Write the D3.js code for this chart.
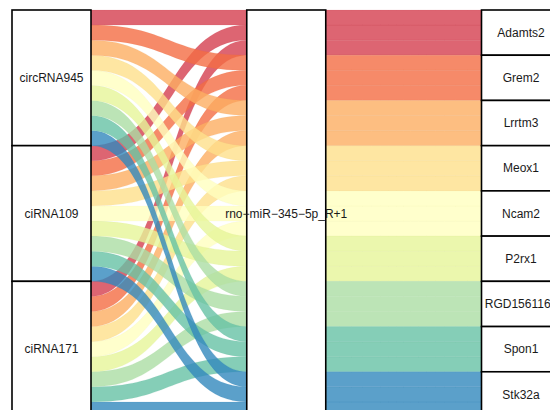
<!DOCTYPE html>
<html>
<head>
<meta charset="utf-8">
<script src="https://cdn.jsdelivr.net/npm/d3@7"></script>
<style>
  html, body { margin: 0; padding: 0; background: #fff; overflow: hidden; }
  svg { display: block; }
  text { font-family: "Liberation Sans", Arial, sans-serif; font-size: 12px; fill: #1a1a1a; }
</style>
</head>
<body>
<svg id="chart" width="550" height="410"></svg>
<script>
// ---- data ----
const axes = ["circRNA", "miRNA", "mRNA"];
const circRNAs = ["circRNA945", "ciRNA109", "ciRNA171"];
const miRNAs = ["rno\u2212miR\u2212345\u22125p_R+1"];
const genes = ["Adamts2", "Grem2", "Lrrtm3", "Meox1", "Ncam2", "P2rx1", "RGD1561161", "Spon1", "Stk32a"];
// weight of each circRNA -> gene alluvium (rows: circRNAs, cols: genes)
const weights = [
  [1, 1, 1, 1, 1, 1, 1, 1, 1],
  [1, 1, 1, 1, 1, 1, 1, 1, 1],
  [1, 1, 1, 1, 1, 1, 1, 1, 1]
];
const palette = ["#D53E4F", "#F46D43", "#FDAE61", "#FEE08B", "#FFFFBF", "#E6F598", "#ABDDA4", "#66C2A5", "#3288BD"];

// ---- build alluvia ----
const alluvia = [];
circRNAs.forEach((c, ci) => genes.forEach((g, gi) => {
  alluvia.push({ circ: c, ci, gene: g, gi, w: weights[ci][gi] });
}));
const total = d3.sum(alluvia, d => d.w);

// left order: by circ then gene; middle/right order: by gene then circ
let acc = 0;
alluvia.forEach(d => { d.l0 = acc; acc += d.w; d.l1 = acc; });
acc = 0;
alluvia.slice().sort((a, b) => a.gi - b.gi || a.ci - b.ci)
  .forEach(d => { d.m0 = acc; acc += d.w; d.m1 = acc; });

// draw bottom alluvia first so upper ones lie on top
const drawOrder = alluvia.slice().reverse();

const svg = d3.select("#chart");
const boxW = 79;
const x = d3.scalePoint().domain(axes).range([51.5, 521]);
const y = d3.scaleLinear().domain([0, total]).range([10, 417]);
const color = d3.scaleOrdinal().domain(genes).range(palette);

function band(xa, ya0, ya1, xb, yb0, yb1) {
  const xm = (xa + xb) / 2;
  const p = d3.path();
  p.moveTo(xa, ya0);
  p.bezierCurveTo(xm, ya0, xm, yb0, xb, yb0);
  p.lineTo(xb, yb1);
  p.bezierCurveTo(xm, yb1, xm, ya1, xa, ya1);
  p.closePath();
  return p.toString();
}

const xl = x("circRNA") + boxW / 2, xmL = x("miRNA") - boxW / 2;
const xmR = x("miRNA") + boxW / 2, xr = x("mRNA") - boxW / 2;

const flows = svg.append("g");
// left -> middle
flows.selectAll("path.lf").data(drawOrder).join("path")
  .attr("class", "lf")
  .attr("d", d => band(xl, y(d.l0), y(d.l1), xmL, y(d.m0), y(d.m1)))
  .attr("fill", d => color(d.gene))
  .attr("fill-opacity", 0.8)
  .attr("stroke", d => d3.color(color(d.gene)).darker(0.3))
  .attr("stroke-opacity", 0.25)
  .attr("stroke-width", 0.4);
// middle -> right
flows.selectAll("path.rf").data(drawOrder).join("path")
  .attr("class", "rf")
  .attr("d", d => band(xmR, y(d.m0), y(d.m1), xr, y(d.m0), y(d.m1)))
  .attr("fill", d => color(d.gene))
  .attr("fill-opacity", 0.8)
  .attr("stroke", d => d3.color(color(d.gene)).darker(0.3))
  .attr("stroke-opacity", 0.25)
  .attr("stroke-width", 0.4);

// strata
const strata = [];
circRNAs.forEach((c, ci) => {
  const a = alluvia.filter(d => d.ci === ci);
  strata.push({ axis: "circRNA", label: c, y0: d3.min(a, d => d.l0), y1: d3.max(a, d => d.l1) });
});
miRNAs.forEach(m => strata.push({ axis: "miRNA", label: m, y0: 0, y1: total }));
genes.forEach((g, gi) => {
  const a = alluvia.filter(d => d.gi === gi);
  strata.push({ axis: "mRNA", label: g, y0: d3.min(a, d => d.m0), y1: d3.max(a, d => d.m1) });
});

const sg = svg.append("g");
sg.selectAll("rect").data(strata).join("rect")
  .attr("x", d => x(d.axis) - boxW / 2)
  .attr("y", d => y(d.y0))
  .attr("width", boxW)
  .attr("height", d => y(d.y1) - y(d.y0))
  .attr("fill", "#fff")
  .attr("stroke", "#000")
  .attr("stroke-width", 1.6);

svg.append("g").selectAll("text").data(strata).join("text")
  .attr("x", d => x(d.axis))
  .attr("y", d => (y(d.y0) + y(d.y1)) / 2)
  .attr("dy", "0.35em")
  .attr("text-anchor", "middle")
  .text(d => d.label);
</script>
</body>
</html>
